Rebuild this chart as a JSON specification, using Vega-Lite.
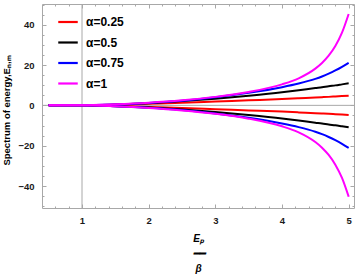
{
  "$schema": "https://vega.github.io/schema/vega-lite/v6.json",
  "autosize": "none",
  "padding": {"left": 42, "top": 4, "right": 6, "bottom": 69},
  "width": 312,
  "height": 204,
  "background": "white",
  "config": {
    "view": {"stroke": null},
    "axis": {
      "labelFont": "Arial, Liberation Sans, sans-serif", "labelFontWeight": "bold", "labelFontSize": 9.5, "labelColor": "#1a1a1a",
      "titleFont": "Arial, Liberation Sans, sans-serif", "titleFontWeight": "bold", "titleFontSize": 10, "titleColor": "#000000",
      "domainColor": "#a8a8a8", "tickColor": "#a8a8a8", "grid": false, "labelFlush": false, "labelOverlap": false, "labelBound": false
    },
    "legend": {
      "labelFont": "Arial, Liberation Sans, sans-serif", "labelFontWeight": "bold", "labelFontSize": 12, "labelColor": "#000000"
    }
  },
  "datasets": {
    "curves": [
      {"x": 0.5, "y": 0, "alpha": "α=0.25", "branch": "up"},
      {"x": 1, "y": 0, "alpha": "α=0.25", "branch": "up"},
      {"x": 1.5, "y": 0.3, "alpha": "α=0.25", "branch": "up"},
      {"x": 2, "y": 0.8, "alpha": "α=0.25", "branch": "up"},
      {"x": 2.5, "y": 1.3, "alpha": "α=0.25", "branch": "up"},
      {"x": 3, "y": 1.9, "alpha": "α=0.25", "branch": "up"},
      {"x": 3.5, "y": 2.5, "alpha": "α=0.25", "branch": "up"},
      {"x": 4, "y": 3.1, "alpha": "α=0.25", "branch": "up"},
      {"x": 4.25, "y": 3.5, "alpha": "α=0.25", "branch": "up"},
      {"x": 4.5, "y": 3.9, "alpha": "α=0.25", "branch": "up"},
      {"x": 4.6, "y": 4.05, "alpha": "α=0.25", "branch": "up"},
      {"x": 4.7, "y": 4.2, "alpha": "α=0.25", "branch": "up"},
      {"x": 4.8, "y": 4.4, "alpha": "α=0.25", "branch": "up"},
      {"x": 4.9, "y": 4.6, "alpha": "α=0.25", "branch": "up"},
      {"x": 5, "y": 4.8, "alpha": "α=0.25", "branch": "up"},
      {"x": 0.5, "y": 0, "alpha": "α=0.25", "branch": "down"},
      {"x": 1, "y": 0, "alpha": "α=0.25", "branch": "down"},
      {"x": 1.5, "y": -0.3, "alpha": "α=0.25", "branch": "down"},
      {"x": 2, "y": -0.8, "alpha": "α=0.25", "branch": "down"},
      {"x": 2.5, "y": -1.3, "alpha": "α=0.25", "branch": "down"},
      {"x": 3, "y": -1.9, "alpha": "α=0.25", "branch": "down"},
      {"x": 3.5, "y": -2.5, "alpha": "α=0.25", "branch": "down"},
      {"x": 4, "y": -3.1, "alpha": "α=0.25", "branch": "down"},
      {"x": 4.25, "y": -3.5, "alpha": "α=0.25", "branch": "down"},
      {"x": 4.5, "y": -3.9, "alpha": "α=0.25", "branch": "down"},
      {"x": 4.6, "y": -4.05, "alpha": "α=0.25", "branch": "down"},
      {"x": 4.7, "y": -4.2, "alpha": "α=0.25", "branch": "down"},
      {"x": 4.8, "y": -4.4, "alpha": "α=0.25", "branch": "down"},
      {"x": 4.9, "y": -4.6, "alpha": "α=0.25", "branch": "down"},
      {"x": 5, "y": -4.8, "alpha": "α=0.25", "branch": "down"},
      {"x": 0.5, "y": 0, "alpha": "α=0.5", "branch": "up"},
      {"x": 1, "y": 0, "alpha": "α=0.5", "branch": "up"},
      {"x": 1.5, "y": 0.4, "alpha": "α=0.5", "branch": "up"},
      {"x": 2, "y": 1.1, "alpha": "α=0.5", "branch": "up"},
      {"x": 2.5, "y": 2.1, "alpha": "α=0.5", "branch": "up"},
      {"x": 3, "y": 3.3, "alpha": "α=0.5", "branch": "up"},
      {"x": 3.5, "y": 4.8, "alpha": "α=0.5", "branch": "up"},
      {"x": 4, "y": 6.5, "alpha": "α=0.5", "branch": "up"},
      {"x": 4.25, "y": 7.5, "alpha": "α=0.5", "branch": "up"},
      {"x": 4.5, "y": 8.6, "alpha": "α=0.5", "branch": "up"},
      {"x": 4.6, "y": 9.0, "alpha": "α=0.5", "branch": "up"},
      {"x": 4.7, "y": 9.5, "alpha": "α=0.5", "branch": "up"},
      {"x": 4.8, "y": 9.9, "alpha": "α=0.5", "branch": "up"},
      {"x": 4.9, "y": 10.4, "alpha": "α=0.5", "branch": "up"},
      {"x": 5, "y": 10.9, "alpha": "α=0.5", "branch": "up"},
      {"x": 0.5, "y": 0, "alpha": "α=0.5", "branch": "down"},
      {"x": 1, "y": 0, "alpha": "α=0.5", "branch": "down"},
      {"x": 1.5, "y": -0.4, "alpha": "α=0.5", "branch": "down"},
      {"x": 2, "y": -1.1, "alpha": "α=0.5", "branch": "down"},
      {"x": 2.5, "y": -2.1, "alpha": "α=0.5", "branch": "down"},
      {"x": 3, "y": -3.3, "alpha": "α=0.5", "branch": "down"},
      {"x": 3.5, "y": -4.8, "alpha": "α=0.5", "branch": "down"},
      {"x": 4, "y": -6.5, "alpha": "α=0.5", "branch": "down"},
      {"x": 4.25, "y": -7.5, "alpha": "α=0.5", "branch": "down"},
      {"x": 4.5, "y": -8.6, "alpha": "α=0.5", "branch": "down"},
      {"x": 4.6, "y": -9.0, "alpha": "α=0.5", "branch": "down"},
      {"x": 4.7, "y": -9.5, "alpha": "α=0.5", "branch": "down"},
      {"x": 4.8, "y": -9.9, "alpha": "α=0.5", "branch": "down"},
      {"x": 4.9, "y": -10.4, "alpha": "α=0.5", "branch": "down"},
      {"x": 5, "y": -10.9, "alpha": "α=0.5", "branch": "down"},
      {"x": 0.5, "y": 0, "alpha": "α=0.75", "branch": "up"},
      {"x": 1, "y": 0, "alpha": "α=0.75", "branch": "up"},
      {"x": 1.5, "y": 0.4, "alpha": "α=0.75", "branch": "up"},
      {"x": 2, "y": 1.2, "alpha": "α=0.75", "branch": "up"},
      {"x": 2.5, "y": 2.3, "alpha": "α=0.75", "branch": "up"},
      {"x": 3, "y": 4.0, "alpha": "α=0.75", "branch": "up"},
      {"x": 3.5, "y": 6.2, "alpha": "α=0.75", "branch": "up"},
      {"x": 4, "y": 9.0, "alpha": "α=0.75", "branch": "up"},
      {"x": 4.25, "y": 10.8, "alpha": "α=0.75", "branch": "up"},
      {"x": 4.5, "y": 13.1, "alpha": "α=0.75", "branch": "up"},
      {"x": 4.6, "y": 14.3, "alpha": "α=0.75", "branch": "up"},
      {"x": 4.7, "y": 15.7, "alpha": "α=0.75", "branch": "up"},
      {"x": 4.8, "y": 17.3, "alpha": "α=0.75", "branch": "up"},
      {"x": 4.9, "y": 19.1, "alpha": "α=0.75", "branch": "up"},
      {"x": 5, "y": 21.1, "alpha": "α=0.75", "branch": "up"},
      {"x": 0.5, "y": 0, "alpha": "α=0.75", "branch": "down"},
      {"x": 1, "y": 0, "alpha": "α=0.75", "branch": "down"},
      {"x": 1.5, "y": -0.4, "alpha": "α=0.75", "branch": "down"},
      {"x": 2, "y": -1.2, "alpha": "α=0.75", "branch": "down"},
      {"x": 2.5, "y": -2.3, "alpha": "α=0.75", "branch": "down"},
      {"x": 3, "y": -4.0, "alpha": "α=0.75", "branch": "down"},
      {"x": 3.5, "y": -6.2, "alpha": "α=0.75", "branch": "down"},
      {"x": 4, "y": -9.0, "alpha": "α=0.75", "branch": "down"},
      {"x": 4.25, "y": -10.8, "alpha": "α=0.75", "branch": "down"},
      {"x": 4.5, "y": -13.1, "alpha": "α=0.75", "branch": "down"},
      {"x": 4.6, "y": -14.3, "alpha": "α=0.75", "branch": "down"},
      {"x": 4.7, "y": -15.7, "alpha": "α=0.75", "branch": "down"},
      {"x": 4.8, "y": -17.3, "alpha": "α=0.75", "branch": "down"},
      {"x": 4.9, "y": -19.1, "alpha": "α=0.75", "branch": "down"},
      {"x": 5, "y": -21.1, "alpha": "α=0.75", "branch": "down"},
      {"x": 0.5, "y": 0, "alpha": "α=1", "branch": "up"},
      {"x": 1, "y": 0, "alpha": "α=1", "branch": "up"},
      {"x": 1.5, "y": 0.5, "alpha": "α=1", "branch": "up"},
      {"x": 2, "y": 1.3, "alpha": "α=1", "branch": "up"},
      {"x": 2.5, "y": 2.5, "alpha": "α=1", "branch": "up"},
      {"x": 3, "y": 4.2, "alpha": "α=1", "branch": "up"},
      {"x": 3.5, "y": 6.6, "alpha": "α=1", "branch": "up"},
      {"x": 4, "y": 10.4, "alpha": "α=1", "branch": "up"},
      {"x": 4.25, "y": 13.4, "alpha": "α=1", "branch": "up"},
      {"x": 4.5, "y": 18.2, "alpha": "α=1", "branch": "up"},
      {"x": 4.6, "y": 21.0, "alpha": "α=1", "branch": "up"},
      {"x": 4.7, "y": 24.6, "alpha": "α=1", "branch": "up"},
      {"x": 4.8, "y": 29.4, "alpha": "α=1", "branch": "up"},
      {"x": 4.9, "y": 36.0, "alpha": "α=1", "branch": "up"},
      {"x": 5, "y": 45.3, "alpha": "α=1", "branch": "up"},
      {"x": 0.5, "y": 0, "alpha": "α=1", "branch": "down"},
      {"x": 1, "y": 0, "alpha": "α=1", "branch": "down"},
      {"x": 1.5, "y": -0.5, "alpha": "α=1", "branch": "down"},
      {"x": 2, "y": -1.3, "alpha": "α=1", "branch": "down"},
      {"x": 2.5, "y": -2.5, "alpha": "α=1", "branch": "down"},
      {"x": 3, "y": -4.2, "alpha": "α=1", "branch": "down"},
      {"x": 3.5, "y": -6.6, "alpha": "α=1", "branch": "down"},
      {"x": 4, "y": -10.4, "alpha": "α=1", "branch": "down"},
      {"x": 4.25, "y": -13.4, "alpha": "α=1", "branch": "down"},
      {"x": 4.5, "y": -18.2, "alpha": "α=1", "branch": "down"},
      {"x": 4.6, "y": -21.0, "alpha": "α=1", "branch": "down"},
      {"x": 4.7, "y": -24.6, "alpha": "α=1", "branch": "down"},
      {"x": 4.8, "y": -29.4, "alpha": "α=1", "branch": "down"},
      {"x": 4.9, "y": -36.0, "alpha": "α=1", "branch": "down"},
      {"x": 5, "y": -45.3, "alpha": "α=1", "branch": "down"}
    ],
    "vline": [{"x": 1}],
    "hline": [{"y": 0}]
  },
  "layer": [
    {
      "data": {"name": "vline"},
      "mark": {"type": "rule", "color": "#a8a8a8", "strokeWidth": 1},
      "encoding": {
        "x": {
          "field": "x", "type": "quantitative",
          "scale": {"domain": [0.4, 5.08], "nice": false, "zero": false},
          "axis": {
            "orient": "top", "title": null, "labels": false,
            "values": [0.6,0.8,1,1.2,1.4,1.6,1.8,2,2.2,2.4,2.6,2.8,3,3.2,3.4,3.6,3.8,4,4.2,4.4,4.6,4.8,5],
            "tickSize": {"condition": {"test": "abs(datum.value-round(datum.value))<0.001", "value": -4}, "value": -2}
          }
        }
      }
    },
    {
      "data": {"name": "hline"},
      "mark": {"type": "rule", "color": "#a8a8a8", "strokeWidth": 1},
      "encoding": {
        "y": {
          "field": "y", "type": "quantitative",
          "scale": {"domain": [-50.9, 50.25], "nice": false, "zero": false},
          "axis": {
            "orient": "right", "title": null, "labels": false,
            "values": [-50,-45,-40,-35,-30,-25,-20,-15,-10,-5,0,5,10,15,20,25,30,35,40,45,50],
            "tickSize": {"condition": {"test": "datum.value % 20 === 0", "value": -4}, "value": -2}
          }
        }
      }
    },
    {
      "data": {"name": "curves"},
      "mark": {"type": "line", "strokeWidth": 2, "interpolate": "monotone"},
      "encoding": {
        "x": {
          "field": "x", "type": "quantitative",
          "scale": {"domain": [0.4, 5.08], "nice": false, "zero": false},
          "axis": {
            "orient": "bottom",
            "values": [0.6,0.8,1,1.2,1.4,1.6,1.8,2,2.2,2.4,2.6,2.8,3,3.2,3.4,3.6,3.8,4,4.2,4.4,4.6,4.8,5],
            "labelExpr": "abs(datum.value-round(datum.value))<0.001 ? '' + round(datum.value) : ''",
            "tickSize": {"condition": {"test": "abs(datum.value-round(datum.value))<0.001", "value": -4}, "value": -2},
            "labelPadding": 11,
            "title": ["Eₚ", "━━", "β"],
            "titleFontStyle": "italic",
            "titleLineHeight": 15,
            "titlePadding": 7
          }
        },
        "y": {
          "field": "y", "type": "quantitative",
          "scale": {"domain": [-50.9, 50.25], "nice": false, "zero": false},
          "axis": {
            "orient": "left",
            "values": [-50,-45,-40,-35,-30,-25,-20,-15,-10,-5,0,5,10,15,20,25,30,35,40,45,50],
            "labelExpr": "datum.value % 20 === 0 ? datum.label : ''",
            "tickSize": {"condition": {"test": "datum.value % 20 === 0", "value": -4}, "value": -2},
            "labelPadding": 12,
            "title": "Spectrum of energy,Eₙ,ₘ",
            "titleFontSize": 9.5,
            "titleY": 106,
            "titlePadding": 6
          }
        },
        "color": {
          "field": "alpha", "type": "nominal",
          "scale": {"domain": ["α=0.25", "α=0.5", "α=0.75", "α=1"], "range": ["#ff0000", "#000000", "#0000ff", "#ff00ff"]},
          "legend": {
            "title": null, "orient": "none", "legendX": 15, "legendY": 7, "padding": 0,
            "symbolType": "stroke", "symbolSize": 380, "symbolStrokeWidth": 2.2,
            "rowPadding": 3.5, "labelOffset": 7
          }
        },
        "detail": {"field": "branch", "type": "nominal"}
      }
    }
  ],
  "resolve": {"axis": {"x": "independent", "y": "independent"}}
}
